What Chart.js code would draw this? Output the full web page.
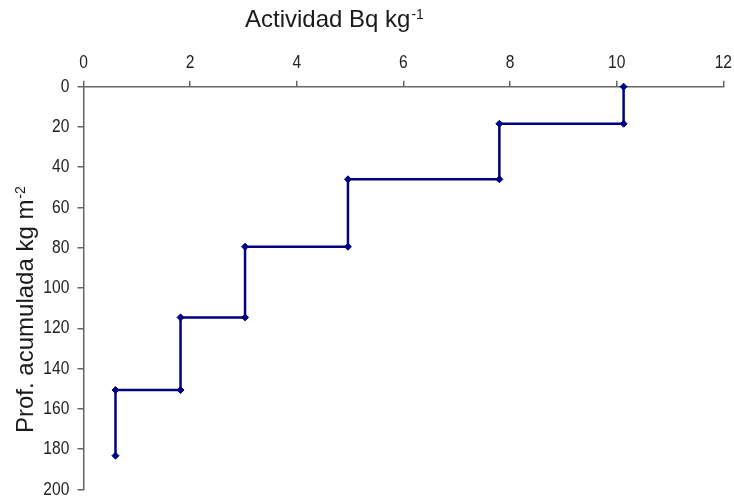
<!DOCTYPE html>
<html>
<head>
<meta charset="utf-8">
<script src="https://cdn.jsdelivr.net/npm/chart.js@4"></script>
<style>
  html, body { margin: 0; padding: 0; background: #fff; }
  #wrap { width: 734px; height: 498px; }
</style>
</head>
<body>
<div id="wrap"><canvas id="c" width="734" height="498"></canvas></div>
<script>
// Activity per layer (Bq/kg) and the cumulative mass depth boundaries (kg/m2)
const layerActivity = [10.13, 7.8, 4.96, 3.03, 1.82, 0.6];
const layerDepths = [0, 18.4, 46, 79.5, 114.6, 150.7, 183.3];
const xTicks = [0, 2, 4, 6, 8, 10, 12];
const yTicks = [0, 20, 40, 60, 80, 100, 120, 140, 160, 180, 200];
const xTitle = ['Actividad Bq kg', '-1'];
const yTitle = ['Prof. acumulada kg m', '-2'];

// Each layer is drawn as a vertical segment from its top to its bottom depth
const profile = [];
layerActivity.forEach((a, i) => {
  profile.push({ x: a, y: layerDepths[i] });
  profile.push({ x: a, y: layerDepths[i + 1] });
});

const NAVY = '#000080';
const AXIS = '#666666';
const SANS = "'Liberation Sans', Arial, sans-serif";

// Condensed tick labels, placed with the scales' own pixel mapping
const condensedTicks = {
  id: 'condensedTicks',
  afterDraw(chart) {
    const ctx = chart.ctx;
    const xs = chart.scales.x, ys = chart.scales.y;
    ctx.save();
    ctx.fillStyle = '#222';
    ctx.font = '19px ' + SANS;
    ctx.textBaseline = 'middle';
    const put = (txt, x, y, align) => {
      ctx.save();
      ctx.translate(x, y);
      ctx.scale(0.82, 1);
      ctx.textAlign = align;
      ctx.fillText(txt, 0, 0);
      ctx.restore();
    };
    xTicks.forEach(v => put(String(v), xs.getPixelForValue(v), xs.bottom - 23.5, 'center'));
    yTicks.forEach(v => put(String(v), ys.right - 14.2, ys.getPixelForValue(v), 'right'));
    ctx.restore();
  }
};

const titles = {
  id: 'titles',
  afterDraw(chart) {
    const ctx = chart.ctx;
    ctx.save();
    ctx.fillStyle = '#1a1a1a';
    ctx.textBaseline = 'alphabetic';
    ctx.textAlign = 'left';
    // top axis title
    ctx.font = '24px ' + SANS;
    let w = ctx.measureText(xTitle[0]).width;
    ctx.fillText(xTitle[0], 245, 27);
    ctx.font = '14px ' + SANS;
    ctx.fillText(xTitle[1], 245 + w + 1, 19);
    // left axis title, rotated
    ctx.translate(33, 433);
    ctx.rotate(-Math.PI / 2);
    ctx.font = '24px ' + SANS;
    w = ctx.measureText(yTitle[0]).width;
    ctx.fillText(yTitle[0], 0, 0);
    ctx.font = '14px ' + SANS;
    ctx.fillText(yTitle[1], w + 1, -8);
    ctx.restore();
  }
};

new Chart(document.getElementById('c'), {
  type: 'scatter',
  data: {
    datasets: [{
      data: profile,
      showLine: true,
      borderColor: NAVY,
      borderWidth: 2.5,
      backgroundColor: NAVY,
      pointStyle: 'rectRot',
      pointRadius: 3.5,
      pointBorderWidth: 1,
      pointBorderColor: NAVY,
      pointBackgroundColor: NAVY,
      tension: 0,
      clip: false
    }]
  },
  options: {
    responsive: false,
    animation: false,
    devicePixelRatio: 1,
    layout: { autoPadding: false, padding: { top: 0, left: 0, right: 10.7, bottom: 8.7 } },
    plugins: { legend: { display: false }, tooltip: { enabled: false } },
    scales: {
      x: {
        type: 'linear',
        position: 'top',
        min: 0, max: 12,
        afterBuildTicks(s) { s.ticks = xTicks.map(v => ({ value: v })); },
        afterFit(s) { s.height = 86.7; },
        grid: { drawOnChartArea: false, drawTicks: true, tickLength: 6, color: AXIS, lineWidth: 1.5 },
        border: { display: true, color: AXIS, width: 1.5 },
        ticks: { display: false }
      },
      y: {
        type: 'linear',
        reverse: true,
        min: 0, max: 200,
        afterBuildTicks(s) { s.ticks = yTicks.map(v => ({ value: v })); },
        afterFit(s) { s.width = 83.5; },
        grid: { drawOnChartArea: false, drawTicks: true, tickLength: 6, color: AXIS, lineWidth: 1.5 },
        border: { display: true, color: AXIS, width: 1.5 },
        ticks: { display: false }
      }
    }
  },
  plugins: [condensedTicks, titles]
});
</script>
</body>
</html>
